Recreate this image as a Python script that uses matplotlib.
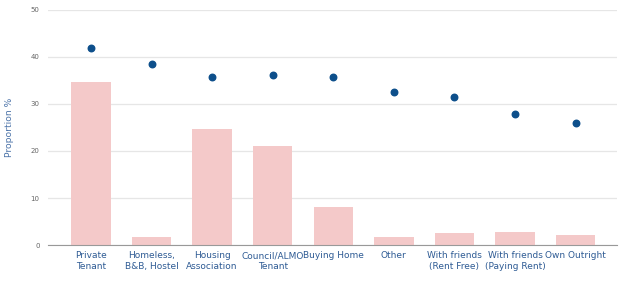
import numpy as np
import matplotlib as mpl
mpl.use("Agg")
import matplotlib.pyplot as plt

categories = ["Private\nTenant", "Homeless,\nB&B, Hostel", "Housing\nAssociation",
              "Council/ALMO\nTenant", "Buying Home", "Other",
              "With friends\n(Rent Free)", "With friends\n(Paying Rent)", "Own Outright"]
bar_values = [34.7, 1.7, 24.7, 21.1, 8.1, 1.8, 2.6, 2.8, 2.1]
dot_values = [41.8, 38.5, 35.8, 36.2, 35.7, 32.6, 31.5, 27.8, 26.0]
yticks = [0, 10, 20, 30, 40, 50]

fig = plt.figure(figsize=(6.27, 2.82), dpi=100)
ax = fig.add_axes([0.0766, 0.131, 0.907, 0.834])

x = np.arange(len(categories))
ax.bar(x, bar_values, width=0.65, color="#f4c9c9", zorder=2)
ax.scatter(x, dot_values, s=22, color="#0d4f8b", zorder=3)

ax.set_xlim(-0.71, len(categories) - 1 + 0.68)
ax.set_ylim(0, 50)
ax.set_yticks(yticks)
ax.set_yticklabels([str(v) for v in yticks], fontsize=5, color="#666666")
ax.set_xticks(x)
ax.set_xticklabels(categories, fontsize=6.5, color="#2e5b94", linespacing=1.3)
ax.tick_params(axis="x", length=0, pad=4.5)
ax.tick_params(axis="y", length=0, pad=6)

ax.grid(axis="y", color="#e6e6e6", linewidth=0.9, zorder=0)
for side in ["top", "right", "left"]:
    ax.spines[side].set_visible(False)
ax.spines["bottom"].set_color("#999999")
ax.spines["bottom"].set_linewidth(0.8)

ax.set_ylabel("Proportion %", fontsize=6.6, color="#4a72a8", labelpad=12)

fig.savefig("out.png", dpi=100)
